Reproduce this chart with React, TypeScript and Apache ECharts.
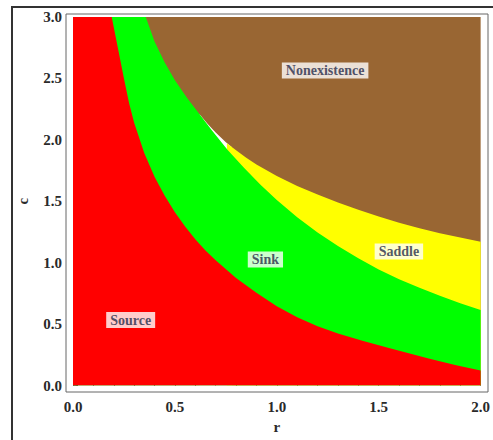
import React, { useEffect, useRef } from "react";
import * as echarts from "echarts";

// Boundary curves [r, c]
const sourceTop: [number, number][] = [
  [0, 3.0], [0.19, 3.0], [0.22, 2.75], [0.25, 2.5], [0.275, 2.3], [0.3, 2.14], [0.35, 1.89], [0.4, 1.7],
  [0.45, 1.545], [0.5, 1.41], [0.55, 1.295], [0.6, 1.19], [0.65, 1.1], [0.7, 1.02],
  [0.8, 0.875], [0.9, 0.755], [1.0, 0.645], [1.1, 0.555], [1.2, 0.482], [1.3, 0.423],
  [1.42, 0.365], [1.55, 0.305], [1.74, 0.222], [1.88, 0.165], [2.0, 0.1225],
];
const sinkTop: [number, number][] = [
  [0, 3.0], [0.357, 3.0], [0.4, 2.8], [0.45, 2.63], [0.5, 2.485], [0.56, 2.34], [0.62, 2.21],
  [0.68, 2.08], [0.76, 1.915], [0.84, 1.77], [0.92, 1.635], [1.0, 1.51], [1.1, 1.37],
  [1.2, 1.245], [1.3, 1.135], [1.4, 1.035], [1.5, 0.945], [1.6, 0.865], [1.7, 0.795],
  [1.8, 0.73], [1.9, 0.67], [2.0, 0.615],
];
const gapTop: [number, number][] = [
  [0.62, 2.21], [0.66, 2.13], [0.7, 2.06], [0.75, 1.98], [0.78, 1.94],
];
const saddleTop: [number, number][] = [
  [0.755, 1.972], [0.8, 1.915], [0.85, 1.855], [0.9, 1.8], [1.0, 1.705], [1.1, 1.625],
  [1.2, 1.555], [1.3, 1.49], [1.4, 1.43], [1.5, 1.375], [1.6, 1.325], [1.7, 1.28],
  [1.8, 1.24], [1.9, 1.205], [2.0, 1.17],
];
const nonexTop: [number, number][] = [[0, 3.0], [2.0, 3.0]];

const regionLabels = [
  { name: "Nonexistence", value: [1.237, 2.565] },
  { name: "Saddle", value: [1.599, 1.091] },
  { name: "Sink", value: [0.944, 1.026] },
  { name: "Source", value: [0.283, 0.533] },
];

const SERIF = "'Liberation Serif', 'Times New Roman', serif";

function area(name: string, data: [number, number][], color: string) {
  return {
    name,
    type: "line",
    data,
    showSymbol: false,
    smooth: false,
    lineStyle: { width: 0, color },
    areaStyle: { color, opacity: 1, origin: "start" },
    itemStyle: { color },
    silent: true,
  };
}

export default function App() {
  const ref = useRef<HTMLDivElement>(null);
  useEffect(() => {
    if (!ref.current) return;
    const chart = echarts.init(ref.current, undefined, { renderer: "svg" });
    const labelStyle = {
      fontFamily: SERIF,
      fontWeight: "bold",
      fontSize: 15,
      color: "#2a2a2a",
    };
    const baseX = {
      type: "value",
      min: 0,
      max: 2,
      interval: 0.5,
      splitLine: { show: false },
      axisLine: { show: false },
    };
    const baseY = {
      type: "value",
      min: 0,
      max: 3,
      interval: 0.5,
      splitLine: { show: false },
      axisLine: { show: false },
    };
    chart.setOption({
      animation: false,
      backgroundColor: "#fff",
      grid: { left: 73, right: 6, top: 17, bottom: 54.5, containLabel: false },
      xAxis: [
        {
          ...baseX,
          position: "bottom",
          offset: 7,
          axisTick: { show: true, inside: true, length: 5, lineStyle: { color: "#555" } },
          minorTick: { show: true, splitNumber: 5, length: 3, lineStyle: { color: "#555" } },
          axisLabel: { ...labelStyle, margin: 7, formatter: (v: number) => v.toFixed(1) },
          name: "r",
          nameLocation: "middle",
          nameGap: 23,
          nameTextStyle: { ...labelStyle, fontSize: 15 },
        },
        {
          ...baseX,
          position: "top",
          offset: 3,
          axisTick: { show: true, inside: false, length: 3, lineStyle: { color: "#555" } },
          minorTick: { show: true, splitNumber: 5, length: 2, lineStyle: { color: "#555" } },
          axisLabel: { show: false },
        },
      ],
      yAxis: [
        {
          ...baseY,
          position: "left",
          offset: 7,
          axisTick: { show: true, inside: true, length: 5, lineStyle: { color: "#555" } },
          minorTick: { show: true, splitNumber: 5, length: 3, lineStyle: { color: "#555" } },
          axisLabel: { ...labelStyle, margin: 4, formatter: (v: number) => v.toFixed(1) },
          name: "c",
          nameLocation: "middle",
          nameGap: 36,
          nameRotate: 90,
          nameTextStyle: { ...labelStyle, fontSize: 15 },
        },
        {
          ...baseY,
          position: "right",
          offset: 1,
          axisTick: { show: true, inside: false, length: 3, lineStyle: { color: "#777" } },
          minorTick: { show: true, splitNumber: 5, length: 2, lineStyle: { color: "#777" } },
          axisLabel: { show: false },
        },
      ],
      graphic: [
        {
          type: "rect",
          shape: { x: 66, y: 14, width: 422, height: 378 },
          style: { fill: "none", stroke: "#666", lineWidth: 1 },
          z: 100,
        },
        {
          type: "line",
          shape: { x1: 11, y1: 7, x2: 493, y2: 7 },
          style: { stroke: "#333", lineWidth: 2 },
        },
        {
          type: "line",
          shape: { x1: 12, y1: 7, x2: 12, y2: 440 },
          style: { stroke: "#333", lineWidth: 2 },
        },
      ],
      series: [
        area("Nonexistence", nonexTop, "#996633"),
        area("gap", gapTop, "#ffffff"),
        area("Saddle", saddleTop, "#ffff00"),
        area("Sink", sinkTop, "#00ff00"),
        area("Source", sourceTop, "#ff0000"),
        {
          type: "scatter",
          data: regionLabels,
          symbolSize: 0,
          z: 10,
          silent: true,
          label: {
            show: true,
            position: "inside",
            formatter: "{b}",
            fontFamily: SERIF,
            fontWeight: "bold",
            fontSize: 14,
            color: "#262b4a",
            backgroundColor: "#ffffff",
            padding: [1, 4, 1, 4],
          },
        },
      ],
    });
    return () => chart.dispose();
  }, []);
  return (
    <div
      ref={ref}
      style={{ position: "absolute", left: 0, top: 0, width: 493, height: 440, background: "#fff" }}
    />
  );
}
